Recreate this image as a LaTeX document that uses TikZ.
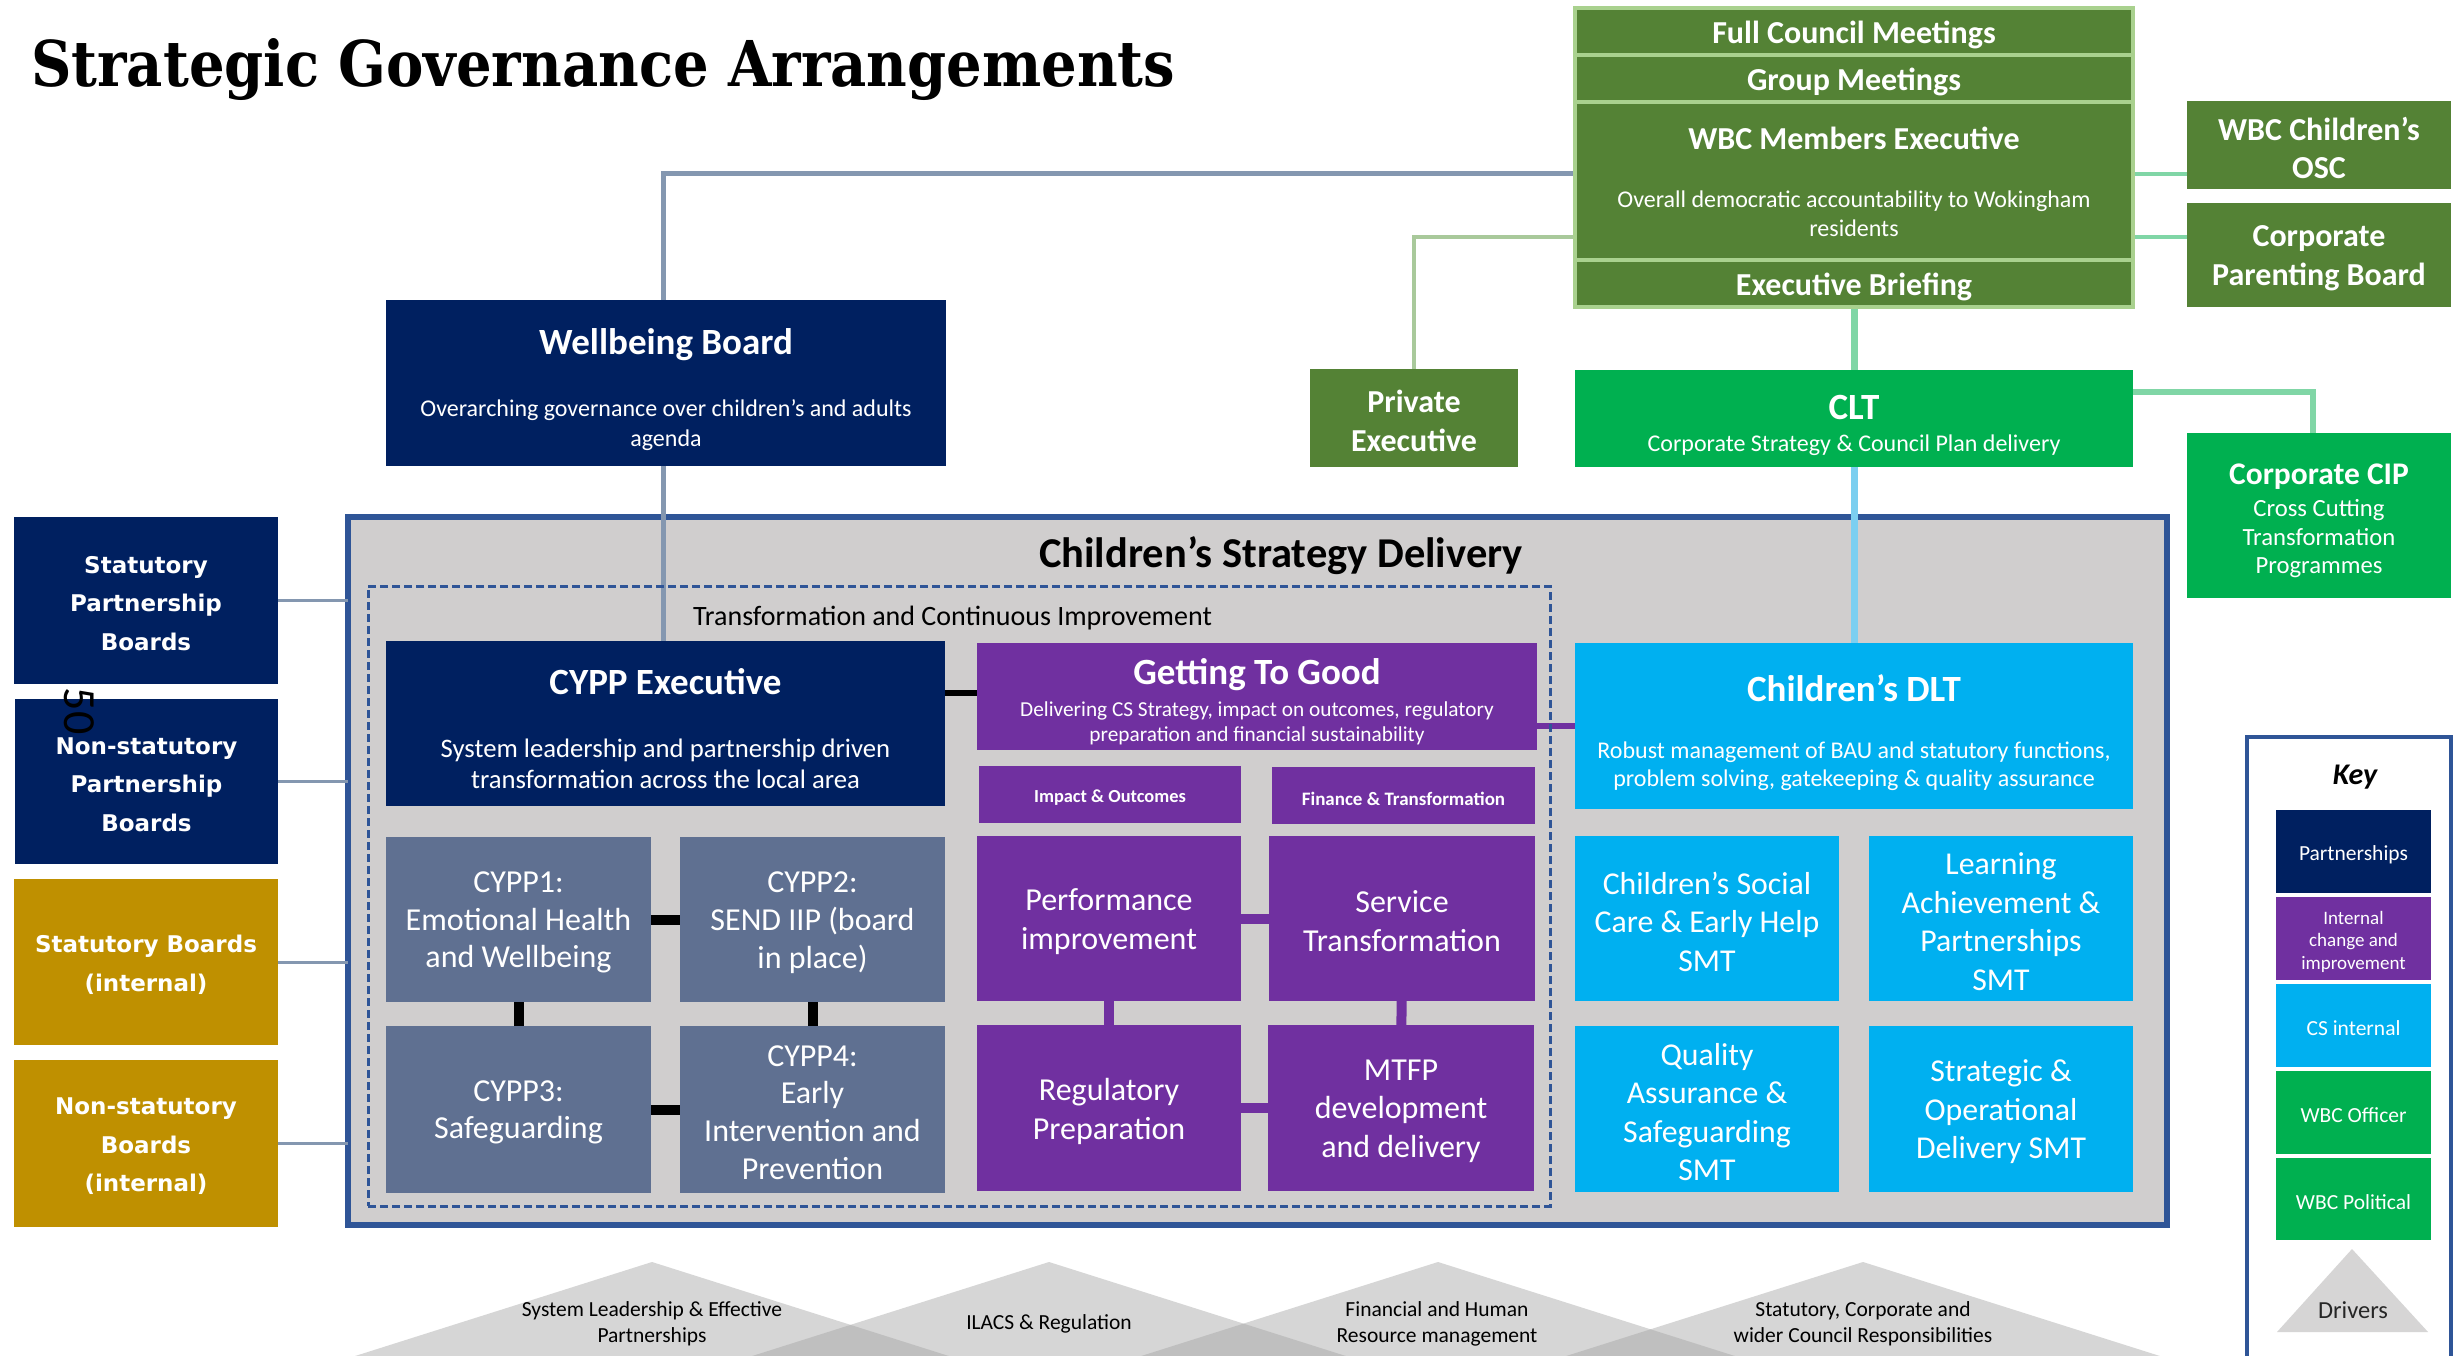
\documentclass[tikz,border=0pt]{standalone}
\usepackage{graphicx}
\usepackage{fontspec}
\setmainfont{Carlito}
\newfontfamily\vfont{DejaVu Sans}
\newfontfamily\tfont{DejaVu Serif}
\newcommand{\myfs}[2]{\fontsize{#1}{#2}\selectfont}
\definecolor{cnavy}{HTML}{002060}
\definecolor{cpurple}{HTML}{7030A0}
\definecolor{ccyan}{HTML}{00B0F0}
\definecolor{cgreen}{HTML}{00B050}
\definecolor{cdgreen}{HTML}{548235}
\definecolor{cslate}{HTML}{5F7091}
\definecolor{cgold}{HTML}{BF9000}
\definecolor{cgrey}{HTML}{D0CECE}
\definecolor{cborder}{HTML}{2F5597}
\definecolor{cstack}{HTML}{A9D18E}
\definecolor{cline}{HTML}{8497B0}
\definecolor{cmint}{HTML}{80D6A6}
\definecolor{clblue}{HTML}{7CCFF0}
\definecolor{cpexl}{HTML}{A9C99B}
\definecolor{ctri}{HTML}{A6A6A6}
\definecolor{cdrv}{HTML}{D6D5D5}
\pgfdeclarelayer{back}
\pgfdeclarelayer{bg}
\pgfsetlayers{back,bg,main}
\tikzset{
  bx/.style={rectangle, inner sep=0pt, outer sep=0pt},
  navy/.style={bx, fill=cnavy},
  purp/.style={bx, fill=cpurple},
  cyanb/.style={bx, fill=ccyan},
  greenb/.style={bx, fill=cgreen},
  dgreen/.style={bx, fill=cdgreen},
  slate/.style={bx, fill=cslate},
  gold/.style={bx, fill=cgold},
  stk/.style={bx, fill=cdgreen, draw=cstack, line width=4pt},
  txt/.style={inner sep=0pt, align=center, yshift=-3pt},
  wtxt/.style={txt, text=white},
  lbold/.style={\vfont\bfseries\myfs{23}{38.5}},
  lcon/.style={draw=cline, line width=3pt},
  tri/.style={fill=ctri, fill opacity=0.46},
}
% style, font, name, x1, y1, x2, y2, text
\newcommand{\boxat}[8]{%
  \node[#1, minimum width={#6pt-#4pt}, minimum height={#7pt-#5pt}] (#3) at ({(#4+#6)/2},{(#5+#7)/2}) {};%
  \node[wtxt, font=#2] (#3t) at (#3.center) {#8};}
\begin{document}
\begin{tikzpicture}[x=1pt,y=-1pt]
\useasboundingbox (0,0) rectangle (2463,1356);
\begin{pgfonlayer}{back}
\fill[white] (0,0) rectangle (2463,1356);
\node[bx, fill=cgrey, draw=cborder, line width=6pt, minimum width=1819pt, minimum height=708pt] (csd) at (1257.5,871) {};
\end{pgfonlayer}
% title
\node[anchor=base west, inner sep=0pt] (title) at (31,87) {\resizebox{1144pt}{48pt}{\tfont\bfseries Strategic Governance Arrangements}};
% political stack
\boxat{stk}{\bfseries\myfs{32}{38}}{fcm}{1575}{8}{2133}{55}{Full Council Meetings}
\boxat{stk}{\bfseries\myfs{32}{38}}{grp}{1575}{55}{2133}{102}{Group Meetings}
\boxat{stk}{}{wbcme}{1575}{102}{2133}{260}{}
\boxat{stk}{\bfseries\myfs{32}{38}}{exb}{1575}{260}{2133}{307}{Executive Briefing}
\node[wtxt, font=\bfseries\myfs{32}{38}] (wbcmet2) at (1854,135) {WBC Members Executive};
\node[wtxt, font=\myfs{24}{29}] (wbcmes) at (1854,210.5) {Overall democratic accountability to Wokingham\\residents};
\boxat{dgreen}{\bfseries\myfs{32}{38.5}}{osc}{2187}{101}{2451}{189}{WBC Children’s\\OSC}
\boxat{dgreen}{\bfseries\myfs{32}{38.5}}{cpb}{2187}{203}{2451}{307}{Corporate\\Parenting Board}
\boxat{dgreen}{\bfseries\myfs{32}{39}}{pex}{1310}{369}{1518}{467}{Private\\Executive}
% CLT and CIP
\boxat{greenb}{}{clt}{1575}{370}{2133}{467}{}
\node[wtxt, font=\bfseries\myfs{37}{44}] (cltt2) at (1854,404) {CLT};
\node[wtxt, font=\myfs{24}{28}] (clts) at (1854,442) {Corporate Strategy \& Council Plan delivery};
\boxat{greenb}{}{cip}{2187}{433}{2451}{598}{}
\node[wtxt, font=\bfseries\myfs{31.5}{38}] (cipt2) at (2319,474) {Corporate CIP};
\node[wtxt, font=\myfs{24.7}{28.5}] (cips) at (2319,535.6) {Cross Cutting\\Transformation\\Programmes};
% wellbeing
\boxat{navy}{}{wb}{386}{300}{946}{466}{}
\node[wtxt, font=\bfseries\myfs{37}{44}] (wbt2) at (666,342) {Wellbeing Board};
\node[wtxt, font=\myfs{24}{29.5}] (wbs) at (666,422) {Overarching governance over children’s and adults\\agenda};
% left boxes
\boxat{navy}{\vfont\bfseries\myfs{23}{38.5}}{spb}{14}{517}{278}{684}{Statutory\\Partnership\\Boards}
\boxat{navy}{\vfont\bfseries\myfs{23}{38.5}}{nspb}{15}{699}{278}{864}{Non-statutory\\Partnership\\Boards}
\boxat{gold}{\vfont\bfseries\myfs{23}{38.5}}{sbi}{14}{879}{278}{1045}{Statutory Boards\\(internal)}
\boxat{gold}{\vfont\bfseries\myfs{23}{38.5}}{nsbi}{14}{1060}{278}{1227}{Non-statutory\\Boards\\(internal)}
\node[inner sep=0pt, rotate=-90, font=\myfs{46}{50}] (pg) at (79,711) {50};
% strategy delivery
\node[txt, font=\bfseries\myfs{42.5}{50}] (csdt) at (1281,553) {Children’s Strategy Delivery};
\node[bx, draw=cborder, line width=3pt, dash pattern=on 8pt off 4pt, minimum width=1182pt, minimum height=620pt] (tci) at (959,896) {};
\node[txt, font=\myfs{28}{34}] (tcit) at (952.5,615) {Transformation and Continuous Improvement};
% CYPP
\boxat{navy}{}{cyx}{386}{641}{945}{806}{}
\node[wtxt, font=\bfseries\myfs{37}{44}] (cyxt2) at (665.5,679) {CYPP Executive};
\node[wtxt, font=\myfs{26.7}{31}] (cyxs) at (665.5,761) {System leadership and partnership driven\\transformation across the local area};
\boxat{slate}{\myfs{32}{37.7}}{c1}{386}{837}{651}{1002}{CYPP1:\\Emotional Health\\and Wellbeing}
\boxat{slate}{\myfs{32}{37.7}}{c2}{680}{837}{945}{1002}{CYPP2:\\SEND IIP (board\\in place)}
\boxat{slate}{\myfs{32}{37.7}}{c3}{386}{1026}{651}{1193}{CYPP3:\\Safeguarding}
\boxat{slate}{\myfs{32}{37.7}}{c4}{680}{1026}{945}{1193}{CYPP4:\\Early\\Intervention and\\Prevention}
% Getting to good
\boxat{purp}{}{gtg}{977}{643}{1537}{750}{}
\node[wtxt, font=\bfseries\myfs{37}{44}] (gtgt2) at (1257,672) {Getting To Good};
\node[wtxt, font=\myfs{21.3}{25}] (gtgs) at (1257,720) {Delivering CS Strategy, impact on outcomes, regulatory\\preparation and financial sustainability};
\boxat{purp}{\bfseries\myfs{18.4}{23}}{imp}{979}{766}{1241}{823}{Impact \& Outcomes}
\boxat{purp}{\bfseries\myfs{19}{23}}{fin}{1272}{767}{1535}{824}{Finance \& Transformation}
\boxat{purp}{\myfs{32}{39}}{perf}{977}{836}{1241}{1001}{Performance\\improvement}
\boxat{purp}{\myfs{32}{39}}{serv}{1269}{836}{1535}{1001}{Service\\Transformation}
\boxat{purp}{\myfs{32}{39}}{reg}{977}{1025}{1241}{1191}{Regulatory\\Preparation}
\boxat{purp}{\myfs{32}{38.5}}{mtfp}{1268}{1025}{1534}{1191}{MTFP\\development\\and delivery}
% DLT
\boxat{cyanb}{}{dlt}{1575}{643}{2133}{809}{}
\node[wtxt, font=\bfseries\myfs{37}{44}] (dltt2) at (1854,685) {Children’s DLT};
\node[wtxt, font=\myfs{24}{28.5}] (dlts) at (1854,763) {Robust management of BAU and statutory functions,\\problem solving, gatekeeping \& quality assurance};
\boxat{cyanb}{\myfs{31.8}{38.5}}{s1}{1575}{836}{1839}{1001}{Children’s Social\\Care \& Early Help\\SMT}
\boxat{cyanb}{\myfs{31.8}{38.5}}{s2}{1869}{836}{2133}{1001}{Learning\\Achievement \&\\Partnerships\\SMT}
\boxat{cyanb}{\myfs{31.8}{38.5}}{s3}{1575}{1026}{1839}{1192}{Quality\\Assurance \&\\Safeguarding\\SMT}
\boxat{cyanb}{\myfs{31.8}{38.5}}{s4}{1869}{1026}{2133}{1192}{Strategic \&\\Operational\\Delivery SMT}
% key
\node[bx, fill=white, draw=cborder, line width=4pt, minimum width=204pt, minimum height=683pt] (key) at (2349,1078.5) {};
\node[txt, font=\bfseries\itshape\myfs{30}{36}] (keyt) at (2355,774) {Key};
\boxat{navy}{\myfs{21.5}{24}}{k1}{2276}{810}{2431}{893}{Partnerships}
\boxat{purp}{\myfs{19}{22.5}}{k2}{2276}{897}{2431}{980}{Internal\\change and\\improvement}
\boxat{cyanb}{\myfs{21.5}{24}}{k3}{2276}{984}{2431}{1067}{CS internal}
\boxat{greenb}{\myfs{21.5}{24}}{k4}{2276}{1071}{2431}{1154}{WBC Officer}
\boxat{greenb}{\myfs{21.5}{24}}{k5}{2276}{1158}{2431}{1240}{WBC Political}
\fill[cdrv] (2352,1249) -- (2277,1332) -- (2428,1332) -- cycle;
\node[txt, font=\myfs{24.5}{28}, text=black!85] (drv) at (2353,1307) {Drivers};
% driver triangles
\fill[tri] (652,1262) -- (322,1366.5) -- (982,1366.5) -- cycle;
\fill[tri] (1049,1262) -- (719,1366.5) -- (1379,1366.5) -- cycle;
\fill[tri] (1438,1262) -- (1108,1366.5) -- (1768,1366.5) -- cycle;
\fill[tri] (1863,1262) -- (1533,1366.5) -- (2193,1366.5) -- cycle;
\node[txt, font=\myfs{21.5}{26}] (d1) at (652,1321) {System Leadership \& Effective\\Partnerships};
\node[txt, font=\myfs{21.5}{26}] (d2) at (1049,1321) {ILACS \& Regulation};
\node[txt, font=\myfs{21.5}{26}] (d3) at (1437,1321) {Financial and Human\\Resource management};
\node[txt, font=\myfs{21.5}{26}] (d4) at (1863,1321) {Statutory, Corporate and\\wider Council Responsibilities};
% connectors
\coordinate (yA) at (0,174);
\coordinate (yB) at (0,237);
\coordinate (yD) at (0,392);
\coordinate (yE) at (0,693);
\coordinate (yF) at (0,726);
\coordinate (xW) at (663,0);
\coordinate (xC) at (2313,0);
\begin{pgfonlayer}{bg}
\draw[lcon] (spb.east) -- (spb.east -| csd.west);
\draw[lcon] (nspb.east) -- (nspb.east -| csd.west);
\draw[lcon] (sbi.east) -- (sbi.east -| csd.west);
\draw[lcon] (nsbi.east) -- (nsbi.east -| csd.west);
\draw[draw=cline, line width=5pt] (xW |- cyx.north) |- (wbcme.west |- yA);
\draw[draw=cpexl, line width=3.5pt] (pex.north) |- (wbcme.west |- yB);
\draw[draw=cmint, line width=4pt] (wbcme.east |- yA) -- (osc.west |- yA);
\draw[draw=cmint, line width=4pt] (wbcme.east |- yB) -- (cpb.west |- yB);
\draw[draw=cmint, line width=7pt] (exb.south) -- (clt.north);
\draw[draw=cmint, line width=6pt] (clt.east |- yD) -- (xC |- yD) -- (xC |- cip.north);
\draw[draw=clblue, line width=7pt] (clt.south) -- (dlt.north);
\draw[draw=black, line width=6pt] (cyx.east |- yE) -- (gtg.west |- yE);
\draw[draw=cpurple, line width=6pt] (gtg.east |- yF) -- (dlt.west |- yF);
\draw[draw=black, line width=10pt] (c1) -- (c2);
\draw[draw=black, line width=10pt] (c1) -- (c3);
\draw[draw=black, line width=10pt] (c2) -- (c4);
\draw[draw=black, line width=10pt] (c3) -- (c4);
\draw[draw=cpurple, line width=10pt] (perf) -- (serv);
\draw[draw=cpurple, line width=10pt] (perf) -- (reg);
\draw[draw=cpurple, line width=10pt] (serv) -- (mtfp);
\draw[draw=cpurple, line width=10pt] (reg) -- (mtfp);
\end{pgfonlayer}
\end{tikzpicture}
\end{document}
